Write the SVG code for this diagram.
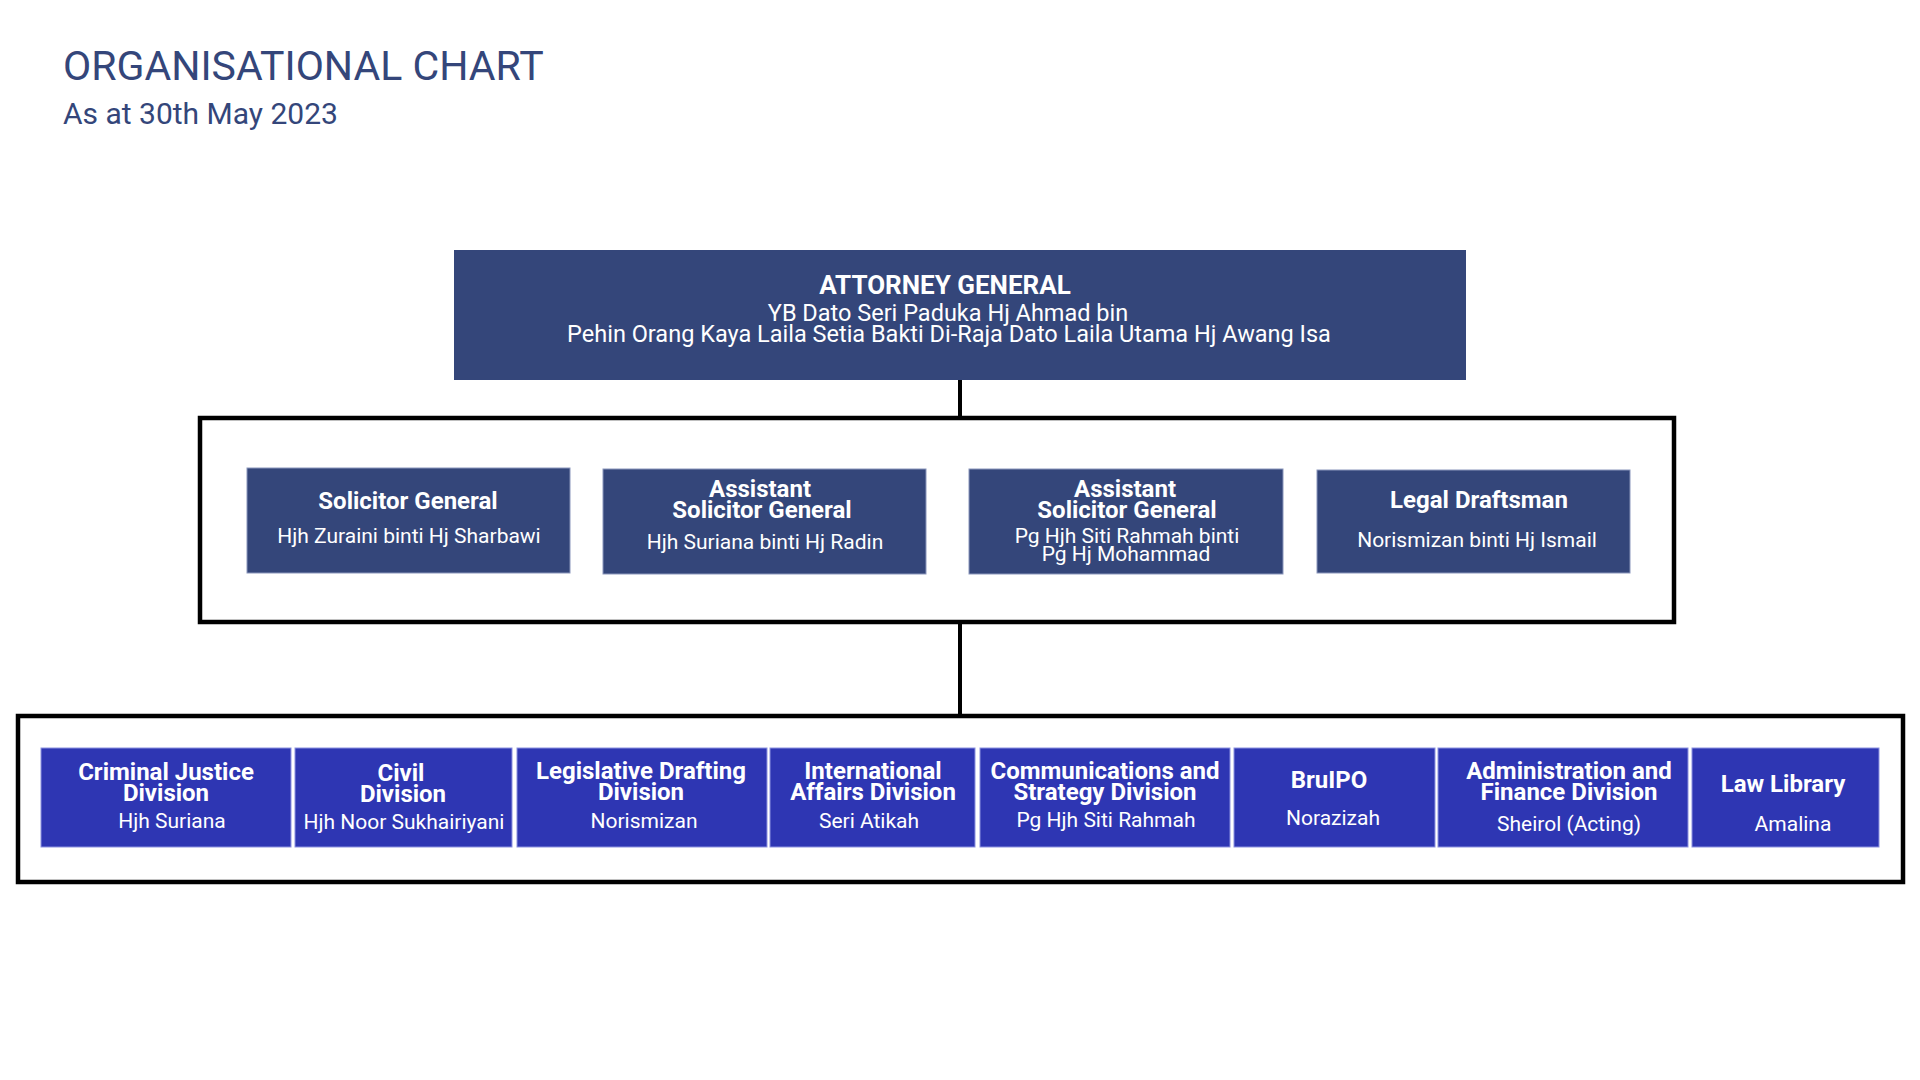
<svg xmlns="http://www.w3.org/2000/svg" width="1920" height="1080" viewBox="0 0 1920 1080">
<style>
text{font-family:Roboto,"Noto Sans","Liberation Sans",sans-serif;text-anchor:middle}
.hd{fill:#34467a;text-anchor:start}
.t{fill:#ffffff;font-weight:bold;font-size:24px}
.n{fill:#ffffff;font-size:21px}
.exec{fill:#34467a;stroke:#8a96bb;stroke-width:1}
.div{fill:#2e36b3;stroke:#8c92e0;stroke-width:1}
.frame{fill:none;stroke:#000000;stroke-width:4.5}
.conn{stroke:#000000;stroke-width:4;fill:none}
</style>
<rect width="1920" height="1080" fill="#ffffff"/>
<g id="header">
<text class="hd" x="63" y="80" font-size="41">ORGANISATIONAL CHART</text>
<text class="hd" x="63" y="124" font-size="30">As at 30th May 2023</text>
</g>
<g id="connectors">
<line class="conn" x1="960" y1="380" x2="960" y2="418"/>
<line class="conn" x1="960" y1="622" x2="960" y2="716"/>
<rect id="frame-executives" class="frame" x="200" y="418" width="1474" height="204"/>
<rect id="frame-divisions" class="frame" x="18" y="716" width="1885" height="166"/>
</g>
<g id="attorney-general">
<rect x="454" y="250" width="1012" height="130" fill="#34467a"/>
<text x="945" y="294" fill="#ffffff" font-weight="bold" font-size="26">ATTORNEY GENERAL</text>
<text x="948" y="321" fill="#ffffff" font-size="23.5">YB Dato Seri Paduka Hj Ahmad bin</text>
<text x="949" y="342" fill="#ffffff" font-size="23.5">Pehin Orang Kaya Laila Setia Bakti Di-Raja Dato Laila Utama Hj Awang Isa</text>
</g>
<g id="solicitor-general">
<rect class="exec" x="247" y="468" width="323" height="105"/>
<text class="t" x="408" y="509">Solicitor General</text>
<text class="n" x="409" y="543">Hjh Zuraini binti Hj Sharbawi</text>
</g>
<g id="assistant-sg-1">
<rect class="exec" x="603" y="469" width="323" height="105"/>
<text class="t" x="760" y="497">Assistant</text>
<text class="t" x="762" y="518">Solicitor General</text>
<text class="n" x="765" y="549">Hjh Suriana binti Hj Radin</text>
</g>
<g id="assistant-sg-2">
<rect class="exec" x="969" y="469" width="314" height="105"/>
<text class="t" x="1125" y="497">Assistant</text>
<text class="t" x="1127" y="518">Solicitor General</text>
<text class="n" x="1127" y="543">Pg Hjh Siti Rahmah binti</text>
<text class="n" x="1126" y="561">Pg Hj Mohammad</text>
</g>
<g id="legal-draftsman">
<rect class="exec" x="1317" y="470" width="313" height="103"/>
<text class="t" x="1479" y="508">Legal Draftsman</text>
<text class="n" x="1477" y="547">Norismizan binti Hj Ismail</text>
</g>
<g id="criminal-justice">
<rect class="div" x="41" y="748" width="250" height="99"/>
<text class="t" x="166" y="780">Criminal Justice</text>
<text class="t" x="166" y="801">Division</text>
<text class="n" x="172" y="828">Hjh Suriana</text>
</g>
<g id="civil">
<rect class="div" x="295" y="748" width="217" height="99"/>
<text class="t" x="401" y="781">Civil</text>
<text class="t" x="403" y="802">Division</text>
<text class="n" x="404" y="829">Hjh Noor Sukhairiyani</text>
</g>
<g id="legislative-drafting">
<rect class="div" x="517" y="748" width="250" height="99"/>
<text class="t" x="641" y="779">Legislative Drafting</text>
<text class="t" x="641" y="800">Division</text>
<text class="n" x="644" y="828">Norismizan</text>
</g>
<g id="international-affairs">
<rect class="div" x="770" y="748" width="205" height="99"/>
<text class="t" x="873" y="779">International</text>
<text class="t" x="873" y="800">Affairs Division</text>
<text class="n" x="869" y="828">Seri Atikah</text>
</g>
<g id="communications-strategy">
<rect class="div" x="980" y="748" width="250" height="99"/>
<text class="t" x="1105" y="779">Communications and</text>
<text class="t" x="1105" y="800">Strategy Division</text>
<text class="n" x="1106" y="827">Pg Hjh Siti Rahmah</text>
</g>
<g id="bruipo">
<rect class="div" x="1234" y="748" width="201" height="99"/>
<text class="t" x="1329" y="788">BruIPO</text>
<text class="n" x="1333" y="825">Norazizah</text>
</g>
<g id="administration-finance">
<rect class="div" x="1438" y="748" width="250" height="99"/>
<text class="t" x="1569" y="779">Administration and</text>
<text class="t" x="1569" y="800">Finance Division</text>
<text class="n" x="1569" y="831">Sheirol (Acting)</text>
</g>
<g id="law-library">
<rect class="div" x="1692" y="748" width="187" height="99"/>
<text class="t" x="1783" y="792">Law Library</text>
<text class="n" x="1793" y="831">Amalina</text>
</g>
</svg>
